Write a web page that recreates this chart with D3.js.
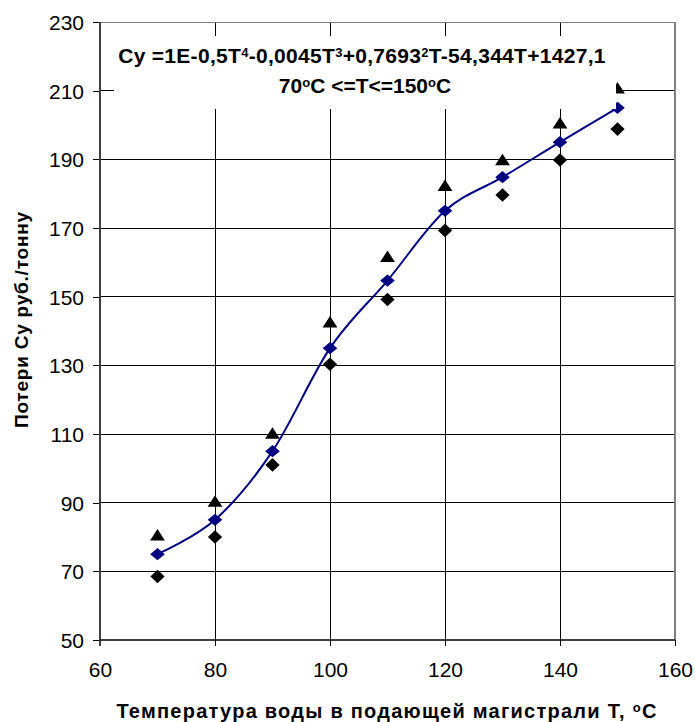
<!DOCTYPE html>
<html>
<head>
<meta charset="utf-8">
<script src="https://cdn.jsdelivr.net/npm/d3@7"></script>
<style>
  html, body { margin: 0; padding: 0; background: #fff; }
  svg { display: block; font-family: "Liberation Sans", Arial, sans-serif; }
</style>
</head>
<body>
<svg id="chart" width="695" height="722"></svg>
<script>
// ---- data ----
const temps   = [70, 80, 90, 100, 110, 120, 130, 140, 150];
const cyMean  = [75, 85, 105, 135, 154.7, 175, 184.8, 195, 205];
const cyUpper = [80.4, 90.2, 110, 142.4, 161.5, 182.2, 189.7, 200.4, 210.6];
const cyLower = [68.5, 80, 101, 130.3, 149.2, 169.3, 179.6, 189.8, 198.8];
const xTicks  = [60, 80, 100, 120, 140, 160];
const yTicks  = [50, 70, 90, 110, 130, 150, 170, 190, 210, 230];
const xTitle  = "Температура воды в подающей магистрали Т, ";
const yTitle  = "Потери Су руб./тонну";

// ---- layout ----
const L = 100, R = 675, T = 22, B = 640;
const x = d3.scaleLinear().domain([60, 160]).range([L, R]);
const y = d3.scaleLinear().domain([50, 230]).range([B, T]);

const svg = d3.select("#chart");
const font = "'Liberation Sans', Arial, sans-serif";

// grid lines
const gGrid = svg.append("g").attr("shape-rendering", "crispEdges");
gGrid.selectAll(".hg").data(yTicks.filter(v => v > 50 && v < 230)).enter()
  .append("line").attr("x1", L).attr("x2", R)
  .attr("y1", d => y(d)).attr("y2", d => y(d))
  .attr("stroke", "#000").attr("stroke-width", 1);
gGrid.selectAll(".vg").data(xTicks.filter(v => v > 60 && v < 160)).enter()
  .append("line").attr("y1", T).attr("y2", B)
  .attr("x1", d => x(d)).attr("x2", d => x(d))
  .attr("stroke", "#000").attr("stroke-width", 1);

// plot border (top/right gray)
gGrid.append("line").attr("x1", L).attr("x2", R).attr("y1", T).attr("y2", T)
  .attr("stroke", "#808080");
gGrid.append("line").attr("x1", R).attr("x2", R).attr("y1", T).attr("y2", B)
  .attr("stroke", "#808080").attr("stroke-width", 1.5);

// axes
const yAxis = d3.axisLeft(y).tickValues(yTicks).tickSize(7).tickPadding(9).tickFormat(d3.format("d"));
const xAxis = d3.axisBottom(x).tickValues(xTicks).tickSize(6).tickPadding(16).tickFormat(d3.format("d"));

const gy = svg.append("g").attr("transform", `translate(${L},0)`).call(yAxis);
const gx = svg.append("g").attr("transform", `translate(0,${B})`).call(xAxis);
[gx, gy].forEach(g => {
  g.select(".domain").remove();
  g.selectAll(".tick line").attr("stroke", "#000").attr("shape-rendering", "crispEdges");
  g.selectAll(".tick text").attr("font-family", font).attr("font-size", 21).attr("fill", "#000");
});
gy.selectAll(".tick text").attr("dy", "0.36em");

// axis lines
svg.append("line").attr("x1", L).attr("x2", L).attr("y1", T).attr("y2", B + 6)
  .attr("stroke", "#404040").attr("stroke-width", 2);
svg.append("line").attr("x1", L).attr("x2", R).attr("y1", B).attr("y2", B)
  .attr("stroke", "#000").attr("stroke-width", 1.5);

// markers: triangles (upper), diamonds (lower)
const tri = d3.symbol().type(d3.symbolTriangle).size(95);
const sq  = d3.symbol().type(d3.symbolSquare).size(92);

svg.append("g").selectAll("path").data(temps.map((t, i) => [t, cyUpper[i]])).enter()
  .append("path").attr("d", tri)
  .attr("transform", d => `translate(${x(d[0])},${y(d[1]) + 1}) scale(1.0,0.9)`)
  .attr("fill", "#000");

svg.append("g").selectAll("path").data(temps.map((t, i) => [t, cyLower[i]])).enter()
  .append("path").attr("d", sq)
  .attr("transform", d => `translate(${x(d[0])},${y(d[1])}) scale(1.05,1.0) rotate(45)`)
  .attr("fill", "#000");

// smoothed mean line
const meanPts = temps.map((t, i) => [t, cyMean[i]]);
const line = d3.line().x(d => x(d[0])).y(d => y(d[1])).curve(d3.curveCatmullRom.alpha(0));
svg.append("path").datum(meanPts).attr("d", line)
  .attr("fill", "none").attr("stroke", "#000080").attr("stroke-width", 2);

svg.append("g").selectAll("path").data(meanPts).enter()
  .append("path").attr("d", sq)
  .attr("transform", d => `translate(${x(d[0])},${y(d[1])}) scale(1.08,0.9) rotate(45)`)
  .attr("fill", "#000080");

// equation box
svg.append("rect").attr("x", 114).attr("y", 36).attr("width", 502).attr("height", 73)
  .attr("fill", "#fff");

function addSeg(t, parts) {
  parts.forEach(p => {
    if (typeof p === "string") t.append("tspan").text(p);
    else t.append("tspan").attr("font-size", 13).attr("baseline-shift", "45%").text(p.sup);
  });
}
const eq1 = svg.append("text").attr("x", 362).attr("y", 63).attr("text-anchor", "middle")
  .attr("font-family", font).attr("font-size", 21).attr("font-weight", "bold")
  .attr("letter-spacing", 0.3);
addSeg(eq1, ["Cy =1E-0,5T", {sup: "4"}, "-0,0045T", {sup: "3"}, "+0,7693", {sup: "2"}, "T-54,344T+1427,1"]);

const eq2 = svg.append("text").attr("x", 365).attr("y", 93).attr("text-anchor", "middle")
  .attr("font-family", font).attr("font-size", 21).attr("font-weight", "bold");
addSeg(eq2, ["70", {sup: "o"}, "C <=T<=150", {sup: "o"}, "C"]);

// axis titles
const xt = svg.append("text").attr("x", 387).attr("y", 718).attr("text-anchor", "middle")
  .attr("font-family", font).attr("font-size", 20).attr("font-weight", "bold")
  .attr("letter-spacing", 1.25);
addSeg(xt, [xTitle, {sup: "o"}, "С"]);

svg.append("text").attr("transform", "translate(28,320) rotate(-90)")
  .attr("text-anchor", "middle")
  .attr("font-family", font).attr("font-size", 19).attr("font-weight", "bold")
  .attr("textLength", 216).attr("lengthAdjust", "spacing")
  .text(yTitle);
</script>
</body>
</html>
